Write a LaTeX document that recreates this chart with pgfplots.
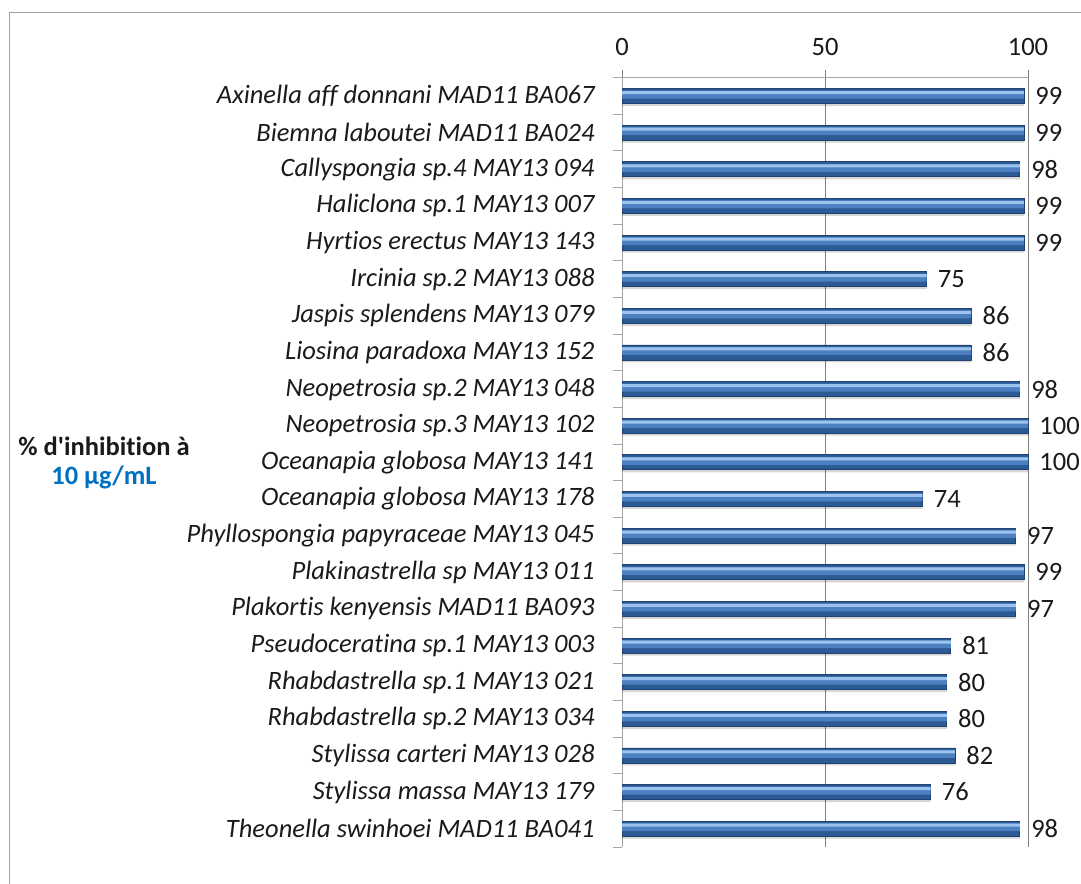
\documentclass[border=0pt]{standalone}
\usepackage{pgfplots}
\pgfplotsset{compat=1.18}
\usepackage{fontspec}
\setmainfont{Carlito}[Ligatures={TeXOff,CommonOff}]

\definecolor{txt}{HTML}{1A1A1A}
\definecolor{bluetxt}{HTML}{0070C0}
\definecolor{gridc}{HTML}{7F7F7F}
\definecolor{axc}{HTML}{A6A6A6}
\definecolor{frame}{HTML}{A0A0A0}
\definecolor{bardark}{HTML}{2B5A94}
\definecolor{baredge}{HTML}{1F4270}
\definecolor{barmid}{HTML}{4C80C0}
\definecolor{barlight}{HTML}{9CC3EE}

\pgfplotstableread{
val idx
99 0
99 1
98 2
99 3
99 4
75 5
86 6
86 7
98 8
100 9
100 10
74 11
97 12
99 13
97 14
81 15
80 16
80 17
82 18
76 19
98 20
}\inhib

\begin{document}
\begin{tikzpicture}
\useasboundingbox (0,0) rectangle (1081bp,884bp);
% outer chart frame
\draw[frame, line width=1.8bp] (9.5bp,0) -- (9.5bp,871.5bp) -- (1081bp,871.5bp);

\begin{axis}[
  at={(622bp,37bp)}, anchor=south west,
  scale only axis, width=406bp, height=769.3bp,
  xmin=0, xmax=100, ymin=-0.5, ymax=20.5,
  y dir=reverse,
  axis x line=top, axis y line=left,
  axis line style={-, axc, line width=1bp},
  xtick={0,50,100},
  xmajorgrids, grid style={gridc, line width=1bp},
  major x tick style={gridc, line width=1bp},
  tick align=outside,
  major tick length=8bp,
  ytick={0,...,20},
  major y tick style={draw=none},
  minor ytick={-0.5,0.5,...,20.5},
  minor y tick style={axc, line width=1bp},
  minor tick length=9bp,
  /pgf/number format/assume math mode=true,
  xticklabel style={font=\fontsize{26.5bp}{30bp}\selectfont, text=txt, yshift=11bp},
  yticklabel style={font=\fontsize{26.5bp}{30bp}\selectfont\itshape, text=txt, xshift=-16bp},
  yticklabels={
    {Axinella aff donnani MAD11 BA067},
    {Biemna laboutei MAD11 BA024},
    {Callyspongia sp.4 MAY13 094},
    {Haliclona sp.1 MAY13 007},
    {Hyrtios erectus MAY13 143},
    {Ircinia sp.2 MAY13 088},
    {Jaspis splendens MAY13 079},
    {Liosina paradoxa MAY13 152},
    {Neopetrosia sp.2 MAY13 048},
    {Neopetrosia sp.3 MAY13 102},
    {Oceanapia globosa MAY13 141},
    {Oceanapia globosa MAY13 178},
    {Phyllospongia papyraceae MAY13 045},
    {Plakinastrella sp MAY13 011},
    {Plakortis kenyensis MAD11 BA093},
    {Pseudoceratina sp.1 MAY13 003},
    {Rhabdastrella sp.1 MAY13 021},
    {Rhabdastrella sp.2 MAY13 034},
    {Stylissa carteri MAY13 028},
    {Stylissa massa MAY13 179},
    {Theonella swinhoei MAD11 BA041}},
  clip=false,
]
% soft shadow under the bars
\addplot[xbar, bar width=14bp, bar shift=-3bp, draw=none, fill=black, opacity=0.16]
  table[x=val, y=idx] {\inhib};
% bar body
\addplot[xbar, bar width=15bp, bar shift=0bp, draw=baredge, line width=0.8bp, fill=bardark,
  nodes near coords,
  every node near coord/.append style={anchor=west, inner sep=0pt, xshift=11bp,
    font=\fontsize{26.5bp}{30bp}\selectfont, text=txt}]
  table[x=val, y=idx] {\inhib};
% bevel: mid tone and highlight
\addplot[xbar, bar width=8bp, bar shift=1.5bp, draw=none, fill=barmid]
  table[x=val, y=idx] {\inhib};
\addplot[xbar, bar width=3bp, bar shift=3.5bp, draw=none, fill=barlight]
  table[x=val, y=idx] {\inhib};
\end{axis}

\node[align=center, font=\fontsize{26.5bp}{29bp}\selectfont\bfseries, text=txt]
  at (104bp,421bp) {\% d'inhibition à\\\textcolor{bluetxt}{10 µg/mL}};
\end{tikzpicture}
\end{document}
